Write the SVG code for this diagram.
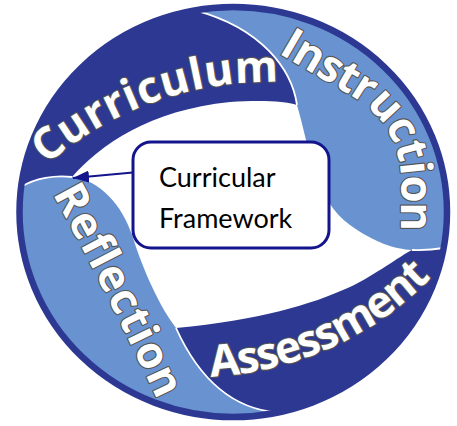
<svg xmlns="http://www.w3.org/2000/svg" width="457" height="426" viewBox="0 0 457 426">
  <defs>
    <style>
      .dark { fill: #2d3892; }
      .light { fill: #6893d0; }
      .sep { fill: none; stroke: #ffffff; stroke-width: 1.8; }
      .lbl { font-family: "Open Sans", "DejaVu Sans", sans-serif; font-weight: bold; font-size: 44px; fill: #ffffff; stroke: #555555; stroke-width: 2.2; paint-order: stroke fill; stroke-linejoin: round; }
      .box { fill: #ffffff; stroke: #14148c; stroke-width: 3; }
      .boxtxt { font-family: Lato, "Liberation Sans", sans-serif; font-size: 27px; fill: #000000; }
      .conn { fill: none; stroke: #14148c; stroke-width: 2; }
    </style>
    <path id="pCurr" d="M -31.2,262.4 A 340 340 0 0 1 374.1,98.6"/>
    <path id="pInst" d="M 278,53 L 355,98 A 94.3 94.3 0 0 1 401,179 L 401,250"/>
    <path id="pAsse" d="M 109.6,365.8 A 330 330 0 0 0 494.1,186.5"/>
    <path id="pRefl" d="M 36,164 Q 110,295 172,432"/>
    <marker id="ah" viewBox="0 0 16 12" refX="16" refY="6" markerWidth="16" markerHeight="12" markerUnits="userSpaceOnUse" orient="auto">
      <path d="M0,0 L16,6 L0,12 z" fill="#14148c"/>
    </marker>
  </defs>
  <rect width="457" height="426" fill="#ffffff"/>

  <g id="curriculum">
    <path class="dark" d="M 21.1,187 A 213.75 205 0 0 1 195,10.3 C 262,28 292,70 297,105 C 285,101 260,100 230,102 C 150,110 100,145 72,177 C 55,175 35,178 21.1,187 Z"/>
  </g>
  <g id="instruction">
    <path class="light" d="M 195,10.3 A 213.75 205 0 0 1 443.7,248 C 435,249.5 425,250.5 412,250 C 395,249 375,243 350,225 C 315,200 310,150 297,105 C 292,70 262,28 195,10.3 Z"/>
  </g>
  <g id="assessment">
    <path class="dark" d="M 443.7,248 A 213.75 205 0 0 1 278,412.5 C 245,410 205,392 176,328 C 260,320 310,305 350,287 C 375,275 400,256 412,250 C 425,250.5 435,249.5 443.7,248 Z"/>
  </g>
  <g id="reflection">
    <path class="light" d="M 278,412.5 A 213.75 205 0 0 1 21.1,187 C 35,178 55,175 72,177 C 100,180 122,205 132,235 C 140,260 155,300 176,328 C 205,392 245,410 278,412.5 Z"/>
  </g>

  <g id="separators">
    <path class="sep" d="M 297,105 C 292,70 262,28 195,10.3"/>
    <path class="sep" d="M 412,250 C 425,250.5 435,249.5 443.7,248"/>
    <path class="sep" d="M 176,328 C 205,392 245,410 278,412.5"/>
    <path class="sep" d="M 72,177 C 55,175 35,178 21.1,187"/>
  </g>

  <ellipse id="rim" cx="233.25" cy="212" rx="213.75" ry="205" fill="none" stroke="#2d3892" stroke-width="6.5"/>

  <g id="labels">
    <text class="lbl" text-anchor="middle" letter-spacing="0.5"><textPath href="#pCurr" startOffset="53%">Curriculum</textPath></text>
    <text class="lbl" letter-spacing="-0.6"><textPath href="#pInst" startOffset="0">Instruction</textPath></text>
    <text class="lbl" text-anchor="middle" letter-spacing="-1.5"><textPath href="#pAsse" startOffset="48.9%">Assessment</textPath></text>
    <text class="lbl" text-anchor="middle" letter-spacing="1"><textPath href="#pRefl" startOffset="50%">Reflection</textPath></text>
  </g>

  <g id="framework">
    <rect class="box" x="133" y="142" width="196" height="106" rx="18"/>
    <text class="boxtxt" x="159" y="187">Curricular</text>
    <text class="boxtxt" x="159" y="228">Framework</text>
  </g>

  <g id="connectors">
    <line class="conn" x1="133" y1="172.5" x2="73" y2="178" marker-end="url(#ah)"/>
  </g>
</svg>
